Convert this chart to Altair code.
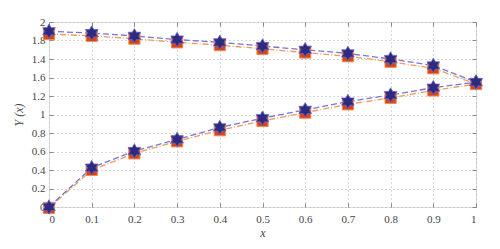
import altair as alt
import pandas as pd

x_vals = [0.0, 0.1, 0.2, 0.3, 0.4, 0.5, 0.6, 0.7, 0.8, 0.9, 1.0]
blue_upper = [1.90, 1.88, 1.85, 1.81, 1.78, 1.74, 1.70, 1.66, 1.60, 1.53, 1.35]
blue_lower = [0.00, 0.425, 0.605, 0.73, 0.86, 0.96, 1.05, 1.14, 1.21, 1.29, 1.35]
orange_upper = [1.87, 1.85, 1.82, 1.78, 1.75, 1.71, 1.67, 1.63, 1.57, 1.50, 1.33]
orange_lower = [-0.01, 0.40, 0.58, 0.71, 0.83, 0.93, 1.02, 1.11, 1.18, 1.26, 1.33]
y_ticks = [0, 0.2, 0.4, 0.6, 0.8, 1, 1.2, 1.4, 1.6, 1.8, 2]
# the reference shows the 1.4 and 1.6 labels swapped
y_tick_labels = ["0", "0.2", "0.4", "0.6", "0.8", "1", "1.2", "1.6", "1.4", "1.8", "2"]

rows = []
for name, up, lo in [("orange", orange_upper, orange_lower), ("blue", blue_upper, blue_lower)]:
    for xv, yv in zip(x_vals, up):
        rows.append({"series": name, "branch": "upper", "x": xv, "y": yv})
    for xv, yv in zip(x_vals, lo):
        rows.append({"series": name, "branch": "lower", "x": xv, "y": yv})
df = pd.DataFrame(rows)

lbl_expr = "".join(
    f"abs(datum.value - {v}) < 0.001 ? '{t}' : " for v, t in zip(y_ticks, y_tick_labels)
) + "datum.label"

FONT = "Liberation Serif"
xs = alt.Scale(domain=[0, 1], nice=False)
ys = alt.Scale(domain=[0, 2], nice=False)

x_bottom = alt.Axis(
    orient="bottom", values=x_vals,
    labelExpr="datum.value == 0 ? '0' : datum.value == 1 ? '1' : format(datum.value, '.1f')",
    grid=True, gridDash=[1, 3], gridColor="#b4b4b4", gridWidth=1,
    domain=False, offset=-4, tickSize=4, tickColor="#888888", labelPadding=6,
    labelFont=FONT, labelFontSize=11, labelColor="#444444",
    title="x", titleFont=FONT, titleFontStyle="italic", titleFontWeight="normal",
    titleFontSize=12, titleColor="#444444", titlePadding=3,
)
y_left = alt.Axis(
    orient="left", values=y_ticks,
    labelExpr=lbl_expr,
    grid=True, gridDash=[1, 3], gridColor="#b4b4b4", gridWidth=1,
    domain=False, offset=-4, tickSize=4, tickColor="#888888", labelPadding=4,
    labelFont=FONT, labelFontSize=11, labelColor="#444444",
    title="Y (x)", titleFont=FONT, titleFontStyle="italic", titleFontWeight="normal",
    titleFontSize=12, titleColor="#444444", titlePadding=6,
)
x_top = alt.Axis(orient="top", values=x_vals, labels=False, title=None, grid=False,
                 domain=False, offset=-4, tickSize=4, tickColor="#888888")
y_right = alt.Axis(orient="right", values=y_ticks, labels=False, title=None, grid=False,
                   domain=False, offset=-4, tickSize=4, tickColor="#888888")

base = alt.Chart(df)

lines_o = base.transform_filter(alt.datum.series == "orange").mark_line(
    color="#f09a60", strokeWidth=1.3, strokeDash=[6, 2, 1, 2]
).encode(
    x=alt.X("x:Q", scale=xs, axis=x_bottom),
    y=alt.Y("y:Q", scale=ys, axis=y_left),
    detail="branch:N",
)
lines_b = base.transform_filter(alt.datum.series == "blue").mark_line(
    color="#7676d0", strokeWidth=1.3, strokeDash=[6, 3]
).encode(
    x=alt.X("x:Q", scale=xs, axis=x_top),
    y=alt.Y("y:Q", scale=ys, axis=y_right),
    detail="branch:N",
)
hexagram = "M0,-1L0.2887,-0.5L0.866,-0.5L0.5774,0L0.866,0.5L0.2887,0.5L0,1L-0.2887,0.5L-0.866,0.5L-0.5774,0L-0.866,-0.5L-0.2887,-0.5Z"
pts_o = base.transform_filter(alt.datum.series == "orange").mark_point(
    shape="square", filled=True, size=125, color="#d8431a", stroke="#f08a50",
    strokeWidth=1, opacity=1
).encode(
    x=alt.X("x:Q", scale=xs, axis=None),
    y=alt.Y("y:Q", scale=ys, axis=None),
)
pts_b = base.transform_filter(alt.datum.series == "blue").mark_point(
    shape=hexagram, filled=True, size=210, color="#2d2a82", stroke="#6a66c0",
    strokeWidth=0.8, opacity=1
).encode(
    x=alt.X("x:Q", scale=xs, axis=None),
    y=alt.Y("y:Q", scale=ys, axis=None),
)

chart = alt.layer(lines_o, lines_b, pts_o, pts_b).resolve_axis(
    x="independent", y="independent"
).properties(
    width=427, height=185,
    autosize=alt.AutoSizeParams(type="none"),
    padding={"left": 49, "top": 22, "right": 24, "bottom": 42},
).configure_view(stroke="#9c9c9c", strokeWidth=1.5).configure(background="white")

chart.save("out.html", embed_options={"renderer": "svg", "actions": False})
